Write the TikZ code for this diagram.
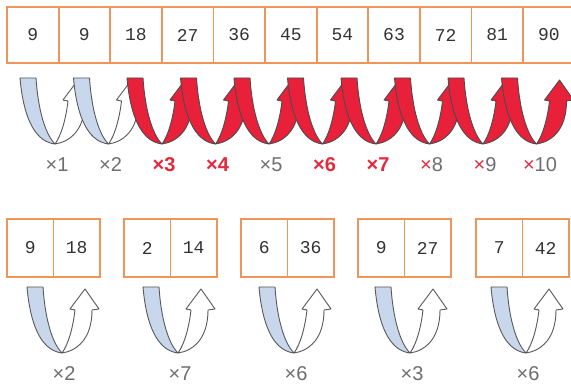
\documentclass[tikz,border=0pt]{standalone}
\usepackage{fontspec}
\setsansfont{Liberation Sans}
\setmonofont{Liberation Mono}
\usetikzlibrary{positioning}
\definecolor{boxorange}{RGB}{238,150,90}
\definecolor{ribblue}{RGB}{200,215,235}
\definecolor{ribred}{RGB}{232,32,58}
\definecolor{mred}{RGB}{230,40,60}
\definecolor{mgray}{RGB}{110,110,110}
\tikzset{
  cell/.style={rectangle,draw=boxorange,line width=1.8pt,inner sep=0pt,outer sep=0pt,
    font=\ttfamily\fontsize{18}{20}\selectfont,text=black!80},
  topcell/.style={cell,minimum width=51.6pt,minimum height=56pt},
  paircell/.style={cell,minimum width=46.5pt,minimum height=58pt},
  mul/.style={font=\sffamily\fontsize{20}{22}\selectfont,text=mgray,inner sep=0pt},
  mulred/.style={mul,text=mred,font=\sffamily\bfseries\fontsize{20}{22}\selectfont},
  pics/twist/.style n args={3}{code={
    \filldraw[fill=#2,draw=#3,line width=0.9pt,line join=round]
      (0,0) .. controls (14,-2) and (30,-13) .. (30,-43) -- (37,-44) -- (23,-64)
      -- (8,-44) -- (13,-43) .. controls (11,-25) and (6,-8) .. (0,0) -- cycle;
    \filldraw[fill=#1,draw=#3,line width=0.9pt,line join=round]
      (-35,-66) -- (-19,-66) .. controls (-17,-35) and (-10,-10) .. (0,0)
      .. controls (-17,-2) and (-31,-20) .. (-35,-66) -- cycle;
  }}
}
\begin{document}
\begin{tikzpicture}[x=1pt,y=-1pt]
    \useasboundingbox[fill=white] (0,0) rectangle (571,387);

    % the row of nines
    \node[topcell] at (32.8, 35) (c1) {9};
    \node[topcell, right=0pt of c1] (c2) {9};
    \node[topcell, right=0pt of c2] (c3) {18};
    \node[topcell, right=0pt of c3] (c4) {27};
    \node[topcell, right=0pt of c4] (c5) {36};
    \node[topcell, right=0pt of c5] (c6) {45};
    \node[topcell, right=0pt of c6] (c7) {54};
    \node[topcell, right=0pt of c7] (c8) {63};
    \node[topcell, right=0pt of c8] (c9) {72};
    \node[topcell, right=0pt of c9] (c10) {81};
    \node[topcell, right=0pt of c10] (c11) {90};

    \pic at (55, 144) {twist={ribblue}{white}{black!65}};
    \pic at (108.5, 144) {twist={ribblue}{white}{black!65}};
    \pic at (162, 144) {twist={ribred}{ribred}{black!70}};
    \pic at (215.5, 144) {twist={ribred}{ribred}{black!70}};
    \pic at (269, 144) {twist={ribred}{ribred}{black!70}};
    \pic at (322.5, 144) {twist={ribred}{ribred}{black!70}};
    \pic at (376, 144) {twist={ribred}{ribred}{black!70}};
    \pic at (429.5, 144) {twist={ribred}{ribred}{black!70}};
    \pic at (483, 144) {twist={ribred}{ribred}{black!70}};
    \pic at (536.5, 144) {twist={ribred}{ribred}{black!70}};

    \node[mul] at (57, 165) (x1) {×1};
    \node[mul] at (110.5, 165) (x2) {×2};
    \node[mulred] at (164, 165) (x3) {×3};
    \node[mulred] at (217.5, 165) (x4) {×4};
    \node[mul] at (271, 165) (x5) {×5};
    \node[mulred] at (324.5, 165) (x6) {×6};
    \node[mulred] at (378, 165) (x7) {×7};
    \node[mul] at (431.5, 165) (x8) {{\color{mred}×}8};
    \node[mul] at (485, 165) (x9) {{\color{mred}×}9};
    \node[mul] at (540, 165) (x10) {{\color{mred}×}10};

    % the five pairs
    \node[paircell] at (30.2, 248) (L1) {9};
    \node[paircell, right=0pt of L1] (R1) {18};
    \node[paircell] at (147.2, 248) (L2) {2};
    \node[paircell, right=0pt of L2] (R2) {14};
    \node[paircell] at (264.2, 248) (L3) {6};
    \node[paircell, right=0pt of L3] (R3) {36};
    \node[paircell] at (381.2, 248) (L4) {9};
    \node[paircell, right=0pt of L4] (R4) {27};
    \node[paircell] at (499.2, 248) (L5) {7};
    \node[paircell, right=0pt of L5] (R5) {42};

    \pic at (62, 353) {twist={ribblue}{white}{black!65}};
    \pic at (178, 353) {twist={ribblue}{white}{black!65}};
    \pic at (294, 353) {twist={ribblue}{white}{black!65}};
    \pic at (410, 353) {twist={ribblue}{white}{black!65}};
    \pic at (526, 353) {twist={ribblue}{white}{black!65}};

    \node[mul] at (64, 374) (y1) {×2};
    \node[mul] at (180, 374) (y2) {×7};
    \node[mul] at (296, 374) (y3) {×6};
    \node[mul] at (412, 374) (y4) {×3};
    \node[mul] at (528, 374) (y5) {×6};
\end{tikzpicture}
\end{document}
